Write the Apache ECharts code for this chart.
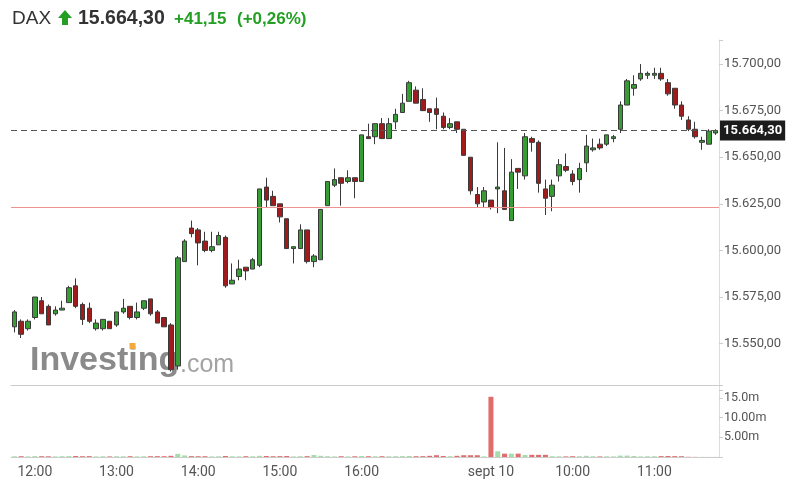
<!DOCTYPE html>
<html>
<head>
<meta charset="utf-8">
<script src="https://cdn.jsdelivr.net/npm/echarts@6/dist/echarts.min.js"></script>
<style>
html, body { margin: 0; padding: 0; background: #fff; }
#chart { width: 795px; height: 494px; }
</style>
</head>
<body>
<div id="chart"></div>
<script>
// DAX, 5 minute candles: 9 Sept 11:45-17:30, 10 Sept 09:00-11:45
const sessions = [
    { day: '09.09', from: '11:45', to: '17:30' },
    { day: '10.09', from: '09:00', to: '11:45' }
];

// which categories get a label on the time axis
const timeLabels = {
    '09.09 12:00': '12:00', '09.09 13:00': '13:00', '09.09 14:00': '14:00',
    '09.09 15:00': '15:00', '09.09 16:00': '16:00',
    '10.09 09:00': 'sept 10', '10.09 10:00': '10:00', '10.09 11:00': '11:00'
};

const opens = [
    15559, 15562, 15558, 15564, 15573, 15570, 15566, 15568, 15572, 15581,
    15571, 15569, 15558, 15558, 15562, 15560, 15567, 15570, 15564, 15569,
    15574, 15567, 15564, 15560, 15538, 15594, 15612, 15611, 15605, 15600,
    15603, 15607, 15582, 15586, 15591, 15590, 15592, 15634, 15629, 15625,
    15617, 15601, 15601, 15611, 15594, 15595, 15624, 15635, 15639, 15637,
    15639, 15637, 15661, 15661, 15668, 15660, 15669, 15674, 15680, 15686,
    15681, 15676, 15676, 15672, 15666, 15669, 15665, 15650, 15630, 15626,
    15627, 15633, 15632, 15616, 15644, 15640, 15660, 15658, 15633, 15629,
    15640, 15645, 15641, 15638, 15647, 15654, 15657, 15657, 15660, 15665,
    15678, 15687, 15692, 15694, 15694, 15695, 15690, 15687, 15678, 15670,
    15665, 15658, 15657, 15663
];
const closes = [
    15567, 15555, 15562, 15575, 15566, 15560, 15568, 15569, 15580, 15570,
    15563, 15562, 15561, 15563, 15558, 15567, 15569, 15564, 15567, 15573,
    15566, 15561, 15559, 15536, 15596, 15605, 15609, 15604, 15600, 15602,
    15608, 15581, 15584, 15590, 15589, 15595, 15633, 15627, 15624, 15618,
    15601, 15602, 15611, 15594, 15597, 15622, 15637, 15638, 15636, 15639,
    15637, 15662, 15660, 15668, 15660, 15668, 15673, 15679, 15690, 15679,
    15675, 15674, 15673, 15666, 15668, 15665, 15651, 15632, 15625, 15632,
    15623, 15634, 15622, 15642, 15642, 15661, 15658, 15636, 15628, 15635,
    15646, 15643, 15637, 15644, 15656, 15655, 15655, 15662, 15661, 15678,
    15691, 15689, 15695, 15695, 15695, 15692, 15684, 15678, 15672, 15665,
    15661, 15659, 15664, 15664.3
];
const lows = [
    15556, 15553, 15557, 15563, 15566, 15560, 15565, 15568, 15572, 15569,
    15560, 15561, 15557, 15557, 15558, 15559, 15566, 15563, 15563, 15568,
    15565, 15561, 15559, 15535, 15536, 15594, 15607, 15592, 15599, 15599,
    15603, 15580, 15582, 15584, 15584, 15590, 15591, 15623, 15624, 15615,
    15601, 15593, 15601, 15593, 15591, 15595, 15624, 15634, 15624, 15636,
    15628, 15637, 15660, 15657, 15660, 15660, 15665, 15674, 15680, 15679,
    15675, 15669, 15665, 15665, 15665, 15663, 15651, 15630, 15623, 15623,
    15622, 15620, 15622, 15616, 15633, 15638, 15653, 15631, 15619, 15621,
    15637, 15642, 15635, 15631, 15642, 15653, 15654, 15656, 15658, 15663,
    15678, 15683, 15691, 15692, 15692, 15691, 15683, 15676, 15670, 15664,
    15660, 15654, 15657, 15662
];
const highs = [
    15568, 15563, 15563, 15575, 15575, 15571, 15570, 15573, 15581, 15585,
    15572, 15572, 15563, 15563, 15562, 15567, 15574, 15570, 15572, 15573,
    15574, 15568, 15564, 15561, 15597, 15606, 15616, 15612, 15610, 15610,
    15610, 15608, 15593, 15595, 15591, 15596, 15633, 15639, 15632, 15625,
    15617, 15602, 15614, 15611, 15598, 15622, 15637, 15644, 15639, 15643,
    15639, 15662, 15668, 15668, 15671, 15671, 15676, 15684, 15691, 15688,
    15687, 15676, 15682, 15674, 15671, 15669, 15665, 15650, 15634, 15634,
    15627, 15658, 15655, 15649, 15644, 15663, 15661, 15659, 15638, 15638,
    15649, 15652, 15643, 15647, 15662, 15660, 15660, 15662, 15662, 15680,
    15692, 15694, 15700, 15696, 15698, 15698, 15692, 15687, 15680, 15672,
    15669, 15661, 15665, 15665
];
// volume in millions
const volumes = [
    0.18, 0.2, 0.15, 0.22, 0.2, 0.18, 0.15, 0.2, 0.22, 0.25,
    0.2, 0.22, 0.15, 0.18, 0.15, 0.2, 0.18, 0.2, 0.15, 0.18,
    0.2, 0.22, 0.2, 0.3, 0.8, 0.4, 0.22, 0.2, 0.2, 0.15,
    0.18, 0.25, 0.18, 0.15, 0.2, 0.18, 0.3, 0.25, 0.2, 0.22,
    0.25, 0.15, 0.2, 0.22, 0.5, 0.3, 0.2, 0.15, 0.2, 0.15,
    0.18, 0.25, 0.2, 0.18, 0.2, 0.18, 0.2, 0.22, 0.25, 0.2,
    0.22, 0.3, 0.45, 0.25, 0.2, 0.3, 0.45, 0.45, 0.45, 0.15,
    15.3, 1.45, 0.85, 0.85, 0.85, 0.5, 0.55, 0.55, 0.55, 0.2,
    0.18, 0.15, 0.2, 0.2, 0.3, 0.2, 0.15, 0.18, 0.15, 0.35,
    0.35, 0.25, 0.15, 0.18, 0.2, 0.22, 0.25, 0.22, 0.2, 0.05,
    0.03, 0.03, 0.03, 0.03
];
const volumeLabels = { 5: '5.00m', 10: '10.00m', 15: '15.0m' };

const lastPrice = 15664.30;
const prevClose = 15623.15;

const upColor = '#389c35';
const downColor = '#a01b1b';
const volUp = '#a6dbab';
const volDown = '#e26b6b';
const green = '#23a023';

// build the category list from the two sessions
function buildTimes() {
    const out = [];
    sessions.forEach(s => {
        const [fh, fm] = s.from.split(':').map(Number);
        const [th, tm] = s.to.split(':').map(Number);
        for (let m = fh * 60 + fm; m <= th * 60 + tm; m += 5) {
            const hh = String(Math.floor(m / 60)).padStart(2, '0');
            const mm = String(m % 60).padStart(2, '0');
            out.push(s.day + ' ' + hh + ':' + mm);
        }
    });
    return out;
}

// 15664.3 -> "15.664,30"
function formatPrice(v) {
    const parts = v.toFixed(2).split('.');
    return parts[0].replace(/\B(?=(\d{3})+(?!\d))/g, '.') + ',' + parts[1];
}

function initChart() {
    const chartDom = document.getElementById('chart');
    const chart = echarts.init(chartDom);
    const times = buildTimes();
    const candles = opens.map((o, i) => [o, closes[i], lows[i], highs[i]]);
    const showTime = (idx, value) => timeLabels[value] !== undefined;

    const option = {
        animation: false,
        textStyle: { fontFamily: 'Roboto' },
        grid: [
            { left: 11, right: 76, top: 40, height: 350.2 },
            { left: 11, right: 76, top: 385, height: 72 }
        ],
        graphic: [
            { type: 'text', z: 10, style: { x: 12, y: 19, text: 'DAX', verticalAlign: 'middle',
                font: '19px "Liberation Sans"', fill: '#333' } },
            { type: 'polygon', z: 10, shape: { points: [[65, 10], [72, 18], [68, 18], [68, 25], [62, 25], [62, 18], [58, 18]] },
                style: { fill: green } },
            { type: 'text', z: 10, style: { x: 78, y: 19, text: formatPrice(lastPrice), verticalAlign: 'middle',
                font: 'bold 19.5px "Liberation Sans"', fill: '#333' } },
            { type: 'text', z: 10, style: { x: 174, y: 19, text: '+41,15', verticalAlign: 'middle',
                font: 'bold 17px "Liberation Sans"', fill: green } },
            { type: 'text', z: 10, style: { x: 237, y: 19, text: '(+0,26%)', verticalAlign: 'middle',
                font: 'bold 17px "Liberation Sans"', fill: green } },
            // watermark, drawn under the candles
            { type: 'text', z: -1, style: { x: 30, y: 361, text: 'Investing', verticalAlign: 'middle',
                font: 'bold 34px "Liberation Sans"', fill: '#8a8a8a' } },
            { type: 'text', z: -1, style: { x: 180, y: 365, text: '.com', verticalAlign: 'middle',
                font: '25px "Liberation Sans"', fill: '#a3a3a3' } },
            { type: 'rect', z: -1, shape: { x: 129.5, y: 343, width: 6, height: 6 }, style: { fill: '#f4a93b' } }
        ],
        xAxis: [
            { type: 'category', gridIndex: 0, data: times, show: false },
            {
                type: 'category', gridIndex: 1, data: times,
                axisLine: { lineStyle: { color: '#cccccc' } },
                axisTick: { interval: showTime, alignWithLabel: true, length: 4, lineStyle: { color: '#cccccc' } },
                axisLabel: {
                    interval: showTime, color: '#555', fontSize: 14, margin: 8,
                    formatter: v => timeLabels[v] || ''
                }
            },
            {
                type: 'category', gridIndex: 1, position: 'top', data: times,
                axisLine: { lineStyle: { color: '#cccccc' } },
                axisTick: { show: false }, axisLabel: { show: false }
            }
        ],
        yAxis: [
            {
                type: 'value', gridIndex: 0, position: 'right',
                min: 15525, max: 15712.9, interval: 25,
                splitLine: { show: false },
                axisLine: { show: true, lineStyle: { color: '#dddddd' } },
                axisTick: { show: true, length: 4, lineStyle: { color: '#cccccc' } },
                axisLabel: {
                    color: '#555', fontSize: 13, margin: 5,
                    formatter: v => (v % 25 === 0 && v > 15525) ? formatPrice(v) : ''
                }
            },
            {
                type: 'value', gridIndex: 1, position: 'right',
                min: 0, max: 18.3, interval: 5,
                splitLine: { show: false },
                axisLine: { show: true, lineStyle: { color: '#dddddd' } },
                axisTick: { show: true, length: 4, lineStyle: { color: '#cccccc' } },
                axisLabel: { color: '#555', fontSize: 12.5, margin: 5, formatter: v => volumeLabels[v] || '' }
            }
        ],
        series: [
            // carries only the previous close line
            {
                type: 'line',
                xAxisIndex: 0, yAxisIndex: 0,
                data: [],
                markLine: {
                    symbol: 'none', silent: true,
                    lineStyle: { color: '#ef9292', type: 'solid', width: 1 },
                    emphasis: { disabled: true },
                    label: { show: false },
                    data: [{ yAxis: prevClose }]
                }
            },
            {
                type: 'candlestick',
                xAxisIndex: 0, yAxisIndex: 0,
                data: candles,
                barWidth: 5,
                itemStyle: {
                    color: upColor, color0: downColor,
                    borderColor: '#3a3a3a', borderColor0: '#3a3a3a', borderWidth: 1
                },
                markLine: {
                    symbol: 'none', silent: true,
                    lineStyle: { color: '#555', type: [6, 4], width: 1 },
                    label: {
                        show: true, position: 'end', distance: 1,
                        formatter: formatPrice(lastPrice),
                        backgroundColor: '#1c1c1c', color: '#fff',
                        fontWeight: 'bold', fontSize: 13, padding: [4, 3, 3, 3]
                    },
                    data: [{ yAxis: lastPrice }]
                }
            },
            {
                type: 'bar',
                xAxisIndex: 1, yAxisIndex: 1,
                data: volumes,
                barWidth: 5,
                itemStyle: {
                    color: p => closes[p.dataIndex] >= opens[p.dataIndex] ? volUp : volDown
                }
            }
        ]
    };

    chart.setOption(option);
    window.addEventListener('resize', chart.resize);
}

document.addEventListener('DOMContentLoaded', initChart);
</script>
</body>
</html>
